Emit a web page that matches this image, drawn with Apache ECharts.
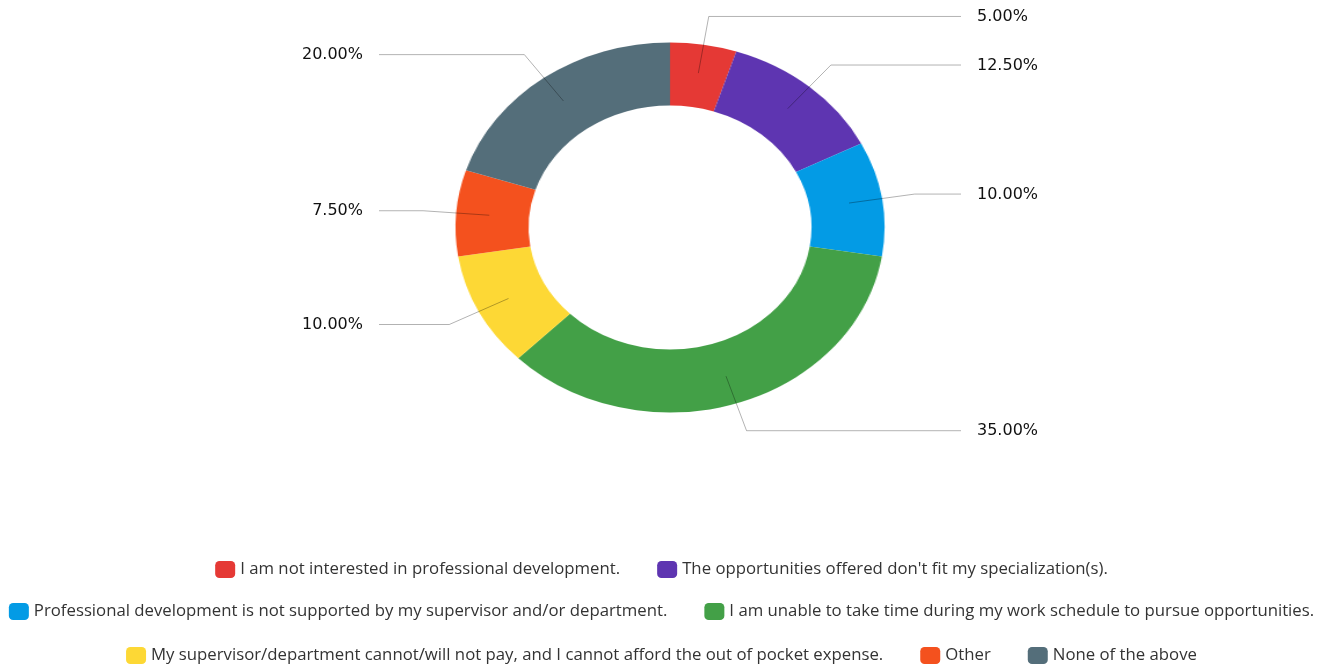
<!DOCTYPE html>
<html><head><meta charset="utf-8">
<script src="https://cdn.jsdelivr.net/npm/echarts@6/dist/echarts.min.js"></script>
<style>
html,body{margin:0;padding:0;background:#fff;}
#wrap{position:relative;width:1323px;height:664px;overflow:hidden;}
#ring{position:absolute;left:0;top:0;width:1323px;height:664px;}
#main{position:absolute;left:0;top:0;width:1323px;height:664px;}
</style></head><body>
<div id="wrap"><div id="ring"></div><div id="main"></div></div>
<script>
// ---- data ----
const categories = [
  "I am not interested in professional development.",
  "The opportunities offered don't fit my specialization(s).",
  "Professional development is not supported by my supervisor and/or department.",
  "I am unable to take time during my work schedule to pursue opportunities.",
  "My supervisor/department cannot/will not pay, and I cannot afford the out of pocket expense.",
  "Other",
  "None of the above"
];
const values = [5.0, 12.5, 10.0, 35.0, 10.0, 7.5, 20.0];
const colors = ['#E53935', '#5E35B1', '#039BE5', '#43A047', '#FDD835', '#F4511E', '#546E7A'];
const legendRows = [[0, 1], [2, 3], [4, 5, 6]];

// ---- layout ----
const CX = 670, CY = 227.5, R_OUT = 185, R_IN = 122;
const SX = 214.5 / 185;           // horizontal stretch of the ring (ellipse)
const LEFT_LINE_END = 379, RIGHT_LINE_END = 961, TEXT_GAP = 16;

const ringEl = document.getElementById('ring');
ringEl.style.transformOrigin = CX + 'px 0';
ringEl.style.transform = 'scaleX(' + SX + ')';

const pieData = categories.map((c, i) => ({ name: c, value: values[i] }));

const ring = echarts.init(ringEl, null, { renderer: 'canvas' });
ring.setOption({
  animation: false,
  color: colors,
  series: [{
    type: 'pie',
    center: [CX, CY],
    radius: [R_IN, R_OUT],
    startAngle: 90,
    clockwise: true,
    avoidLabelOverlap: false,
    label: { show: false },
    labelLine: { show: false },
    emphasis: { disabled: true },
    silent: true,
    data: pieData
  }]
});

// mid angles from the library's pie layout
let mids = [];
try {
  const d = ring.getModel().getSeriesByIndex(0).getData();
  for (let i = 0; i < values.length; i++) {
    const l = d.getItemLayout(i);
    mids.push({ a: (l.startAngle + l.endAngle) / 2, cx: l.cx, cy: l.cy, r: l.r });
  }
} catch (e) {
  const total = values.reduce((s, v) => s + v, 0);
  let acc = 0;
  mids = values.map(v => {
    const a0 = -Math.PI / 2 + acc / total * 2 * Math.PI;
    acc += v;
    const a1 = -Math.PI / 2 + acc / total * 2 * Math.PI;
    return { a: (a0 + a1) / 2, cx: CX, cy: CY, r: R_OUT };
  });
}

const graphics = [];
mids.forEach((m, i) => {
  const pt = k => [m.cx + Math.cos(m.a) * m.r * k * SX, m.cy + Math.sin(m.a) * m.r * k];
  const p0 = pt(0.845), p1 = pt(1.155);
  const right = Math.cos(m.a) >= 0;
  const xEnd = right ? RIGHT_LINE_END : LEFT_LINE_END;
  graphics.push({
    type: 'polyline', silent: true, z: 10,
    shape: { points: [p0, p1, [xEnd, p1[1]]] },
    style: { stroke: 'rgba(0,0,0,0.3)', lineWidth: 1, fill: null }
  });
  graphics.push({
    type: 'text', silent: true, z: 10,
    style: {
      text: values[i].toFixed(2) + '%',
      x: right ? xEnd + TEXT_GAP : xEnd - TEXT_GAP,
      y: p1[1] + 0.5,
      align: right ? 'left' : 'right',
      verticalAlign: 'middle',
      font: '16px "DejaVu Sans"',
      fill: '#111'
    }
  });
});

const main = echarts.init(document.getElementById('main'), null, { renderer: 'canvas' });
const legendTops = [556, 598, 642];
main.setOption({
  animation: false,
  color: colors,
  legend: legendRows.map((row, k) => ({
    data: row.map(i => categories[i]),
    left: 'center',
    top: legendTops[k],
    icon: 'roundRect',
    itemWidth: 20,
    itemHeight: 17,
    itemGap: 37,
    selectedMode: false,
    textStyle: { fontFamily: '"Open Sans"', fontSize: 16.75, color: '#333' }
  })),
  series: [{
    type: 'pie',
    center: [-500, -500],
    radius: [0, 0],
    silent: true,
    label: { show: false },
    labelLine: { show: false },
    data: pieData
  }],
  graphic: graphics
});
</script>
</body></html>
